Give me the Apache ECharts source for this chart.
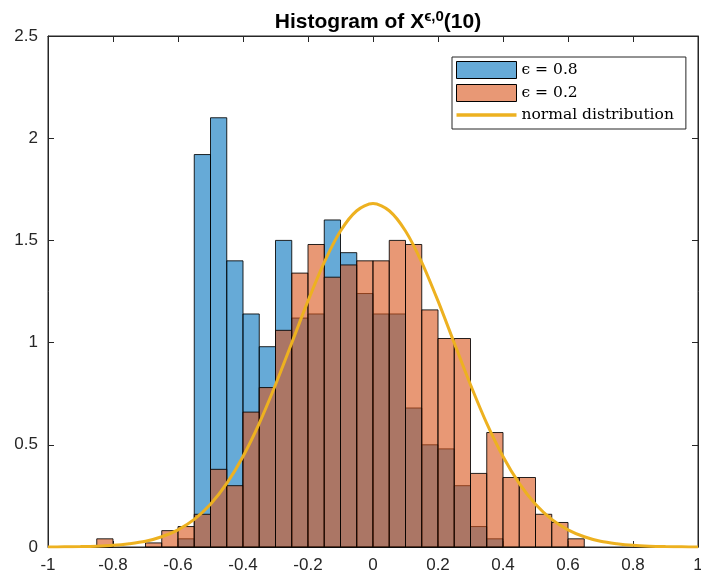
<!DOCTYPE html>
<html>
<head>
<meta charset="utf-8">
<script src="https://cdn.jsdelivr.net/npm/echarts@6/dist/echarts.min.js"></script>
<style>html,body{margin:0;padding:0;background:#fff;overflow:hidden;}#c{width:701px;height:582px;}</style>
</head>
<body>
<div id="c"></div>
<script>
// Histogram bins (left edges, width 0.05)
var binLeft = [-0.85,-0.8,-0.75,-0.7,-0.65,-0.6,-0.55,-0.5,-0.45,-0.4,-0.35,-0.3,-0.25,-0.2,-0.15,-0.1,-0.05,0,0.05,0.1,0.15,0.2,0.25,0.3,0.35,0.4,0.45,0.5,0.55,0.6];
var binRight = [-0.8,-0.75,-0.7,-0.65,-0.6,-0.55,-0.5,-0.45,-0.4,-0.35,-0.3,-0.25,-0.2,-0.15,-0.1,-0.05,0,0.05,0.1,0.15,0.2,0.25,0.3,0.35,0.4,0.45,0.5,0.55,0.6,0.65];
var eps08 = [0,0,0,0,0,0.04,1.92,2.10,1.40,1.14,0.98,1.50,1.12,1.14,1.60,1.44,1.24,1.14,1.14,0.68,0.50,0.48,0.30,0.10,0.04,0,0,0,0,0];
var eps02 = [0.04,0,0,0.02,0.08,0.10,0.16,0.38,0.30,0.66,0.78,1.06,1.34,1.48,1.32,1.38,1.40,1.40,1.50,1.48,1.16,1.02,1.02,0.36,0.56,0.34,0.34,0.16,0.12,0.04];
// Normal distribution curve
var curveX = [-1,-0.95,-0.9,-0.85,-0.8,-0.75,-0.7,-0.65,-0.6,-0.55,-0.5,-0.45,-0.4,-0.35,-0.3,-0.25,-0.2,-0.15,-0.1,-0.05,0,0.05,0.1,0.15,0.2,0.25,0.3,0.35,0.4,0.45,0.5,0.55,0.6,0.65,0.7,0.75,0.8,0.85,0.9,0.95,1];
var curveY = [0,0.001,0.002,0.004,0.008,0.016,0.028,0.050,0.084,0.135,0.209,0.311,0.443,0.605,0.794,0.998,1.204,1.393,1.546,1.645,1.680,1.645,1.546,1.393,1.204,0.998,0.794,0.605,0.443,0.311,0.209,0.135,0.084,0.050,0.028,0.016,0.008,0.004,0.002,0.001,0];
var xTicks = {min:-1, max:1, interval:0.2};
var yTicks = {min:0, max:2.5, interval:0.5};

var blueFill = 'rgba(0,114,189,0.6)';
var orangeFill = 'rgba(217,83,25,0.6)';
var edge = 'rgba(0,0,0,0.85)';
var axisColor = '#262626';

function histData(vals){
  return binLeft.map(function(l,i){ return [l, binRight[i], vals[i]]; });
}
function makeRender(fill){
  return function(params, api){
    var x0 = api.value(0), x1 = api.value(1), h = api.value(2);
    if (!(h > 0)) return;
    var p0 = api.coord([x0, h]);
    var p1 = api.coord([x1, 0]);
    return {type:'rect', shape:{x:p0[0], y:p0[1], width:p1[0]-p0[0], height:p1[1]-p0[1]},
      style:{fill:fill, stroke:edge, lineWidth:1}};
  };
}

var chart = echarts.init(document.getElementById('c'), null, {renderer:'canvas', width:701, height:582});
var tickLabel = {fontSize:17, color:axisColor, fontFamily:'Liberation Sans, Arial, sans-serif'};
chart.setOption({
  animation:false,
  backgroundColor:'#fff',
  title:{
    text:'{a|Histogram of X}{s|ϵ,0}{a|(10)}',
    left:373, top:4, textAlign:'center',
    textStyle:{rich:{
      a:{fontSize:21, fontWeight:'bold', color:'#000', fontFamily:'Liberation Sans, Arial, sans-serif', lineHeight:27},
      s:{fontSize:15, fontWeight:'bold', color:'#000', fontFamily:'Liberation Sans, DejaVu Sans, sans-serif', verticalAlign:'top', lineHeight:14}
    }}
  },
  grid:{left:48, right:3, top:36, bottom:35, containLabel:false, outerBoundsMode:'none',
        show:true, borderColor:axisColor, borderWidth:1, backgroundColor:'#fff'},
  legend:{
    orient:'vertical', left:452, top:57,
    backgroundColor:'#fff', borderColor:axisColor, borderWidth:1,
    padding:[4,12,6,4], itemGap:5, itemWidth:60, itemHeight:17, symbolKeepAspect:true,
    textStyle:{fontSize:15.5, color:'#000', fontFamily:'DejaVu Serif, Liberation Serif, serif'},
    data:[
      {name:'ϵ = 0.8', icon:'rect', itemStyle:{color:blueFill, borderColor:'#000', borderWidth:1}},
      {name:'ϵ = 0.2', icon:'rect', itemStyle:{color:orangeFill, borderColor:'#000', borderWidth:1}},
      {name:'normal distribution', icon:'path://M0 0 H100 V6 H0 Z', itemStyle:{color:'#EDB120', borderWidth:0}}
    ]
  },
  xAxis:[
    {type:'value', min:xTicks.min, max:xTicks.max, interval:xTicks.interval, position:'bottom',
     axisLine:{show:true, onZero:false, lineStyle:{color:axisColor}},
     axisTick:{show:true, inside:true, length:6, lineStyle:{color:axisColor}},
     axisLabel:Object.assign({margin:10}, tickLabel),
     splitLine:{show:false}},
    {type:'value', min:xTicks.min, max:xTicks.max, interval:xTicks.interval, position:'top',
     axisLine:{show:true, onZero:false, lineStyle:{color:axisColor}},
     axisTick:{show:true, inside:true, length:6, lineStyle:{color:axisColor}},
     axisLabel:{show:false}, splitLine:{show:false}}
  ],
  yAxis:[
    {type:'value', min:yTicks.min, max:yTicks.max, interval:yTicks.interval, position:'left',
     axisLine:{show:true, onZero:false, lineStyle:{color:axisColor}},
     axisTick:{show:true, inside:true, length:6, lineStyle:{color:axisColor}},
     axisLabel:Object.assign({margin:10}, tickLabel),
     splitLine:{show:false}},
    {type:'value', min:yTicks.min, max:yTicks.max, interval:yTicks.interval, position:'right',
     axisLine:{show:true, onZero:false, lineStyle:{color:axisColor}},
     axisTick:{show:true, inside:true, length:6, lineStyle:{color:axisColor}},
     axisLabel:{show:false}, splitLine:{show:false}}
  ],
  series:[
    {name:'ϵ = 0.8', type:'custom', renderItem:makeRender(blueFill), data:histData(eps08),
     encode:{x:[0,1], y:2}, itemStyle:{color:blueFill}, z:2},
    {name:'ϵ = 0.2', type:'custom', renderItem:makeRender(orangeFill), data:histData(eps02),
     encode:{x:[0,1], y:2}, itemStyle:{color:orangeFill}, z:3},
    {name:'normal distribution', type:'line', smooth:0.3, showSymbol:false, symbol:'none',
     data:curveX.map(function(x,i){return [x, curveY[i]];}),
     lineStyle:{color:'#EDB120', width:3}, itemStyle:{color:'#EDB120'}, z:5}
  ]
});
</script>
</body>
</html>
